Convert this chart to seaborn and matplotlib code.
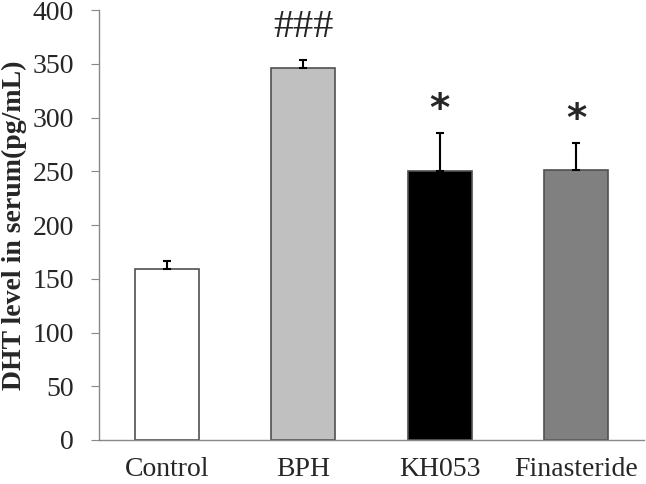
import numpy as np
import pandas as pd
import matplotlib
matplotlib.use("Agg")
import matplotlib.pyplot as plt
import seaborn as sns

groups = ["Control", "BPH", "KH053", "Finasteride"]
dht = [159, 346, 250, 251]
sem = [7.5, 8, 35.5, 25]
marks = ["", "###", "*", "*"]
bar_colors = ["#ffffff", "#c0c0c0", "#000000", "#808080"]

df = pd.DataFrame({"group": groups, "dht": dht})

sns.set_style("white")
plt.rcParams["font.family"] = ["Liberation Serif", "DejaVu Serif"]

fig = plt.figure(figsize=(6.46, 4.84), dpi=100)
ax = fig.add_axes([0.153, 0.091, 0.844, 0.888])

sns.barplot(data=df, x="group", y="dht", hue="group", palette=bar_colors,
            width=0.47, edgecolor="#505050", linewidth=1.2, legend=False, ax=ax)

x = np.arange(len(groups))
ax.errorbar(x, dht, yerr=[np.zeros(len(sem)), sem], fmt="none",
            ecolor="black", elinewidth=1.5, capsize=3, capthick=1.5)

# significance marks
for i, m in enumerate(marks):
    if not m:
        continue
    top = dht[i] + sem[i]
    if m == "###":
        ax.text(i, top + 13, m, ha="center", va="bottom", fontsize=29)
    else:
        ax.text(i, top + 4, m, ha="center", va="bottom", fontsize=28,
                family="DejaVu Sans", fontweight="bold")

ax.set_ylim(0, 400)
ax.set_xlim(-0.5, 3.5)
ax.set_yticks(np.arange(0, 401, 50))
ax.set_xticks(np.arange(-0.5, 3.6, 1), minor=False)
ax.set_xticklabels([])
ax.set_xticks(x, minor=True)
ax.set_xticklabels(groups, minor=True)
ax.tick_params(axis="x", which="major", direction="out", length=6, color="#888888")
ax.tick_params(axis="x", which="minor", length=0, labelsize=20, pad=12)
ax.tick_params(axis="y", direction="out", length=6, color="#888888", labelsize=20,
               left=True, pad=12)

ax.set_xlabel("")
ax.set_ylabel("DHT level in serum(pg/mL)", fontsize=20, fontweight="bold", labelpad=4)

for s in ["top", "right"]:
    ax.spines[s].set_visible(False)
for s in ["left", "bottom"]:
    ax.spines[s].set_color("#888888")
    ax.spines[s].set_linewidth(1)

plt.savefig("out.png", dpi=100)
